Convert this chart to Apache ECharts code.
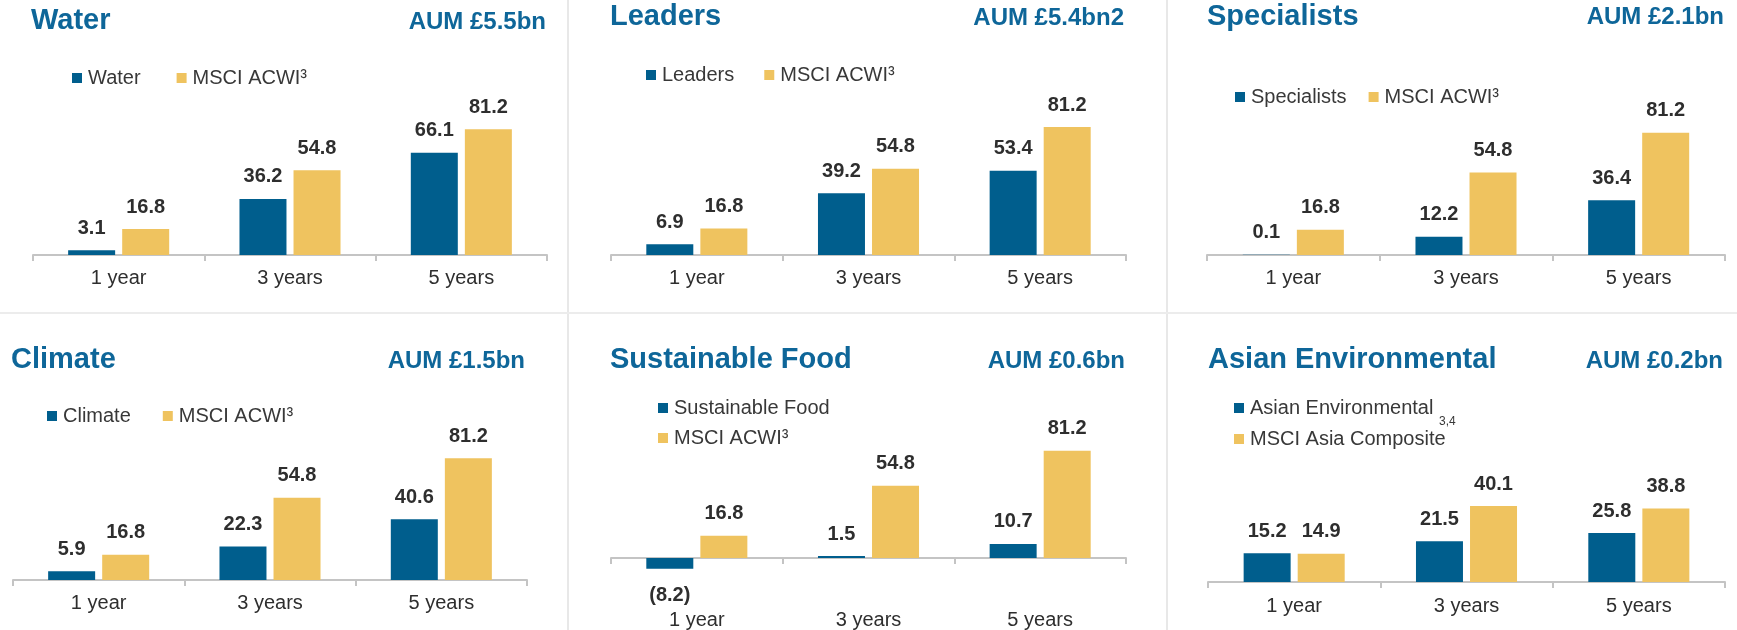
<!DOCTYPE html>
<html>
<head>
<meta charset="utf-8">
<title>Fund performance</title>
<script src="https://cdn.jsdelivr.net/npm/echarts@6/dist/echarts.min.js"></script>
<style>
  html, body { margin: 0; padding: 0; background: #fff; }
  #main { width: 1737px; height: 630px; }
</style>
</head>
<body>
<div id="main"></div>
<script>
// data
var categories = ['1 year', '3 years', '5 years'];
var acwi = [16.8, 54.8, 81.2];
var water = [3.1, 36.2, 66.1];
var leaders = [6.9, 39.2, 53.4];
var specialists = [0.1, 12.2, 36.4];
var climate = [5.9, 22.3, 40.6];
var food = [-8.2, 1.5, 10.7];
var asian = [15.2, 21.5, 25.8];
var asiaComposite = [14.9, 40.1, 38.8];

var BLUE = '#005e8d', GOLD = '#efc35f', TITLE = '#0e6699', TEXT = '#2e2e2e', AXIS = '#c4c4c4';
var FONT = "'Liberation Sans', Arial, sans-serif";

// one entry per small chart (positions in px)
// margin = gap between the bottom of the grid and the category labels
var panels = [
  { name: 'Water', aum: 'AUM £5.5bn', fund: water, bench: acwi, benchName: 'MSCI ACWI³',
    left: 33, width: 514, axisY: 255, scale: 1.548, min: 0, margin: 13,
    titleLeft: 31, titleTop: 6, aumRight: 1737 - 546, aumTop: 10,
    legend: { left: 72, top: 68, gap: 36, orient: 'horizontal' } },
  { name: 'Leaders', aum: 'AUM £5.4bn2', fund: leaders, bench: acwi, benchName: 'MSCI ACWI³',
    left: 611, width: 515, axisY: 255, scale: 1.576, min: 0, margin: 13,
    titleLeft: 610, titleTop: 2.5, aumRight: 1737 - 1124, aumTop: 6,
    legend: { left: 646, top: 65, gap: 30, orient: 'horizontal' } },
  { name: 'Specialists', aum: 'AUM £2.1bn', fund: specialists, bench: acwi, benchName: 'MSCI ACWI³',
    left: 1207, width: 518, axisY: 255, scale: 1.506, min: 0, margin: 13,
    titleLeft: 1207, titleTop: 2.5, aumRight: 1737 - 1724, aumTop: 5.5,
    legend: { left: 1235, top: 87, gap: 22, orient: 'horizontal' } },
  { name: 'Climate', aum: 'AUM £1.5bn', fund: climate, bench: acwi, benchName: 'MSCI ACWI³',
    left: 13, width: 514, axisY: 580, scale: 1.499, min: 0, margin: 13,
    titleLeft: 11, titleTop: 345.5, aumRight: 1737 - 525, aumTop: 349.5,
    legend: { left: 47, top: 406, gap: 32, orient: 'horizontal' } },
  { name: 'Sustainable Food', aum: 'AUM £0.6bn', fund: food, bench: acwi, benchName: 'MSCI ACWI³',
    left: 611, width: 515, axisY: 558, scale: 1.32, min: -20, margin: 26,
    titleLeft: 610, titleTop: 345.5, aumRight: 1737 - 1125, aumTop: 349.5,
    legend: { left: 658, top: 398, gap: 10, orient: 'vertical' } },
  { name: 'Asian Environmental', aum: 'AUM £0.2bn', fund: asian, bench: asiaComposite, benchName: 'MSCI Asia Composite',
    left: 1208, width: 517, axisY: 582, scale: 1.895, min: 0, margin: 14,
    titleLeft: 1208, titleTop: 345.5, aumRight: 1737 - 1723, aumTop: 349.5,
    legend: { left: 1234, top: 398, gap: 11, orient: 'vertical' } }
];

function fmt(v) {
  return v < 0 ? '(' + Math.abs(v).toFixed(1) + ')' : v.toFixed(1);
}

var titles = [], legends = [], grids = [], xAxes = [], yAxes = [], series = [];
var MAX = 100;

panels.forEach(function (p, i) {
  titles.push({
    text: p.name, left: p.titleLeft, top: p.titleTop, padding: 0,
    textStyle: { fontFamily: FONT, fontSize: 29, fontWeight: 'bold', color: TITLE }
  });
  titles.push({
    text: p.aum, right: p.aumRight, top: p.aumTop, padding: 0,
    textStyle: { fontFamily: FONT, fontSize: 24, fontWeight: 'bold', color: TITLE }
  });
  legends.push({
    data: [p.name, p.benchName], left: p.legend.left, top: p.legend.top,
    orient: p.legend.orient, itemGap: p.legend.gap, padding: 0,
    icon: 'rect', itemWidth: 10, itemHeight: 10, selectedMode: false,
    textStyle: { fontFamily: FONT, fontSize: 20, color: '#383838', padding: [0, 0, 0, 1] }
  });
  grids.push({
    left: p.left, width: p.width,
    top: p.axisY - MAX * p.scale,
    height: (MAX - p.min) * p.scale,
    outerBoundsMode: 'none',
    containLabel: false
  });
  xAxes.push({
    type: 'category', gridIndex: i, data: categories,
    axisLine: { show: true, lineStyle: { color: AXIS, width: 2 } },
    axisTick: { show: true, interval: 0, length: 6, lineStyle: { color: AXIS, width: 2 } },
    axisLabel: { margin: p.margin, fontFamily: FONT, fontSize: 20, color: TEXT },
    splitLine: { show: false }
  });
  yAxes.push({
    type: 'value', gridIndex: i, min: p.min, max: MAX, show: false,
    splitLine: { show: false }
  });
  var label = {
    show: true, position: 'top', distance: 12,
    fontFamily: FONT, fontSize: 20, fontWeight: 'bold', color: TEXT,
    formatter: function (d) { return fmt(d.value); }
  };
  series.push({
    name: p.name, type: 'bar', xAxisIndex: i, yAxisIndex: i,
    barWidth: 47, barGap: '15%',
    itemStyle: { color: BLUE },
    label: label,
    data: p.fund.map(function (v) {
      return v < 0 ? { value: v, label: { position: 'bottom', distance: 17 } } : v;
    })
  });
  series.push({
    name: p.benchName, type: 'bar', xAxisIndex: i, yAxisIndex: i,
    barWidth: 47, barGap: '15%',
    itemStyle: { color: GOLD },
    label: label,
    data: p.bench
  });
});

var myChart = echarts.init(document.getElementById('main'), null, { renderer: 'canvas' });
var option = {
  animation: false,
  title: titles,
  legend: legends,
  grid: grids,
  xAxis: xAxes,
  yAxis: yAxes,
  series: series,
  graphic: [
    // panel dividers
    { type: 'line', shape: { x1: 568, y1: 0, x2: 568, y2: 630 }, style: { stroke: '#e8e8e8', lineWidth: 2 }, silent: true },
    { type: 'line', shape: { x1: 1167, y1: 0, x2: 1167, y2: 630 }, style: { stroke: '#e8e8e8', lineWidth: 2 }, silent: true },
    { type: 'line', shape: { x1: 0, y1: 313, x2: 1737, y2: 313 }, style: { stroke: '#ececec', lineWidth: 2 }, silent: true },
    // footnote on the Asia benchmark
    { type: 'text', left: 1439, top: 416, silent: true,
      style: { text: '3,4', fontFamily: FONT, fontSize: 12, fill: '#383838' } }
  ]
};
myChart.setOption(option);
</script>
</body>
</html>
